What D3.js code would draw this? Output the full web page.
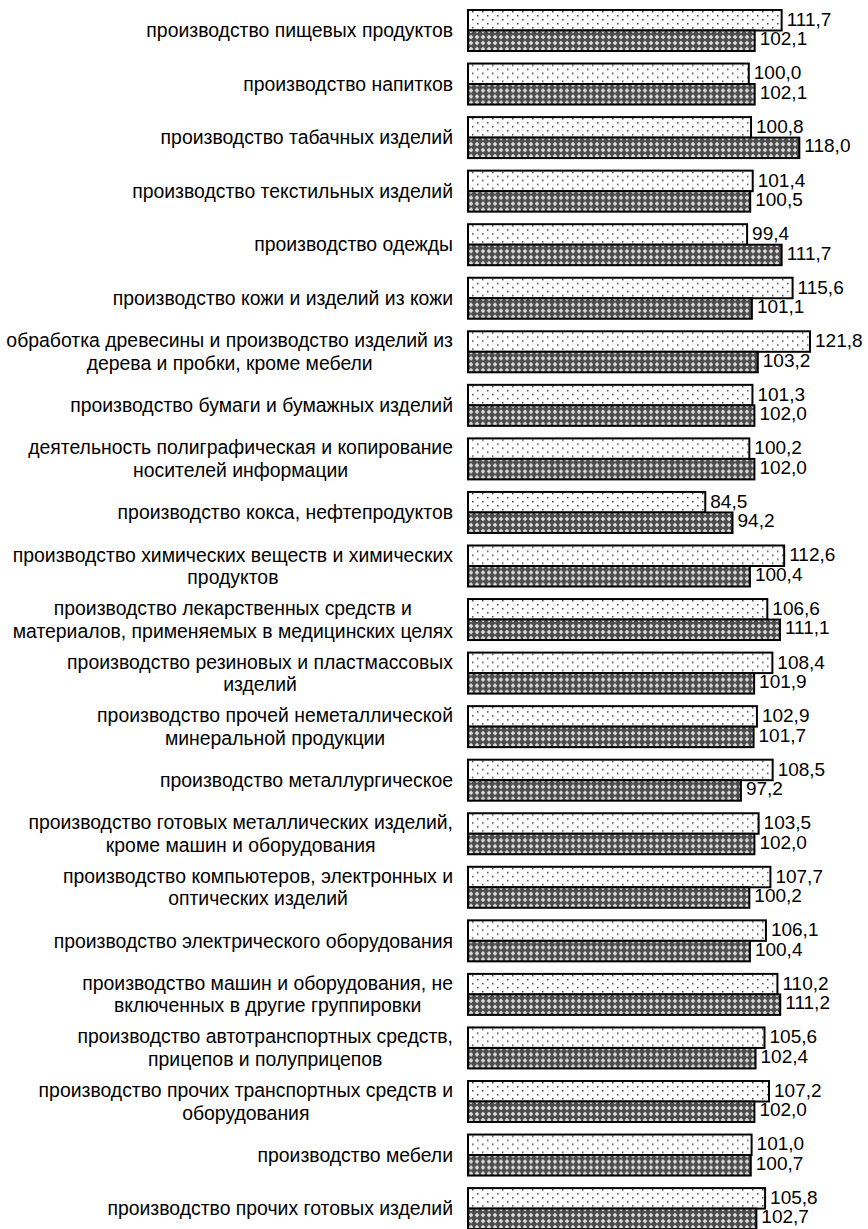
<!DOCTYPE html>
<html><head><meta charset="utf-8">
<script src="https://cdn.jsdelivr.net/npm/d3@7"></script>
<style>body{margin:0;background:#fff}svg{display:block}</style>
</head><body>
<svg id="c" width="868" height="1229"></svg>
<script>
const categories = [
  "производство пищевых продуктов",
  "производство напитков",
  "производство табачных изделий",
  "производство текстильных изделий",
  "производство одежды",
  "производство кожи и изделий из кожи",
  "обработка древесины и производство изделий из\nдерева и пробки, кроме мебели",
  "производство бумаги и бумажных изделий",
  "деятельность полиграфическая и копирование\nносителей информации",
  "производство кокса, нефтепродуктов",
  "производство химических веществ и химических\nпродуктов",
  "производство лекарственных средств и\nматериалов, применяемых в медицинских целях",
  "производство резиновых и пластмассовых\nизделий",
  "производство прочей неметаллической\nминеральной продукции",
  "производство металлургическое",
  "производство готовых металлических изделий,\nкроме машин и оборудования",
  "производство компьютеров, электронных и\nоптических изделий",
  "производство электрического оборудования",
  "производство машин и оборудования, не\nвключенных в другие группировки",
  "производство автотранспортных средств,\nприцепов и полуприцепов",
  "производство прочих транспортных средств и\nоборудования",
  "производство мебели",
  "производство прочих готовых изделий"
];
const seriesTop = [111.7,100.0,100.8,101.4,99.4,115.6,121.8,101.3,100.2,84.5,112.6,106.6,108.4,102.9,108.5,103.5,107.7,106.1,110.2,105.6,107.2,101.0,105.8];
const seriesBottom = [102.1,102.1,118.0,100.5,111.7,101.1,103.2,102.0,102.0,94.2,100.4,111.1,101.9,101.7,97.2,102.0,100.2,100.4,111.2,102.4,102.0,100.7,102.7];
const seriesKeys = ["top","bottom"];

const FONT = "'Liberation Sans', Arial, sans-serif";
const svg = d3.select("#c");
const defs = svg.append("defs");
// dotted pattern
const pd = defs.append("pattern").attr("id","dots").attr("patternUnits","userSpaceOnUse")
  .attr("width",10).attr("height",8);
pd.append("rect").attr("width",10).attr("height",8).attr("fill","#fff");
pd.append("rect").attr("x",2).attr("y",1).attr("width",1.5).attr("height",1.5).attr("fill","#444");
pd.append("rect").attr("x",7).attr("y",5).attr("width",1.5).attr("height",1.5).attr("fill","#444");
// crosshatch pattern
const pc = defs.append("pattern").attr("id","cross").attr("patternUnits","userSpaceOnUse")
  .attr("width",6).attr("height",6);
pc.append("rect").attr("width",6).attr("height",6).attr("fill","#4d4d4d");
pc.append("path").attr("d","M3,0.8 L5.2,3 L3,5.2 L0.8,3 Z").attr("fill","#f2f2f2");
pc.append("rect").attr("x",2.5).attr("y",2.5).attr("width",1).attr("height",1).attr("fill","#999");

const x = d3.scaleLinear().domain([0,121.8]).range([468,810]);
const step = 53.55, groupH = 41;
const y = d3.scaleBand().domain(d3.range(categories.length))
  .range([10, 10 + 22*step + groupH]).paddingInner(1 - groupH/step).paddingOuter(0);
const ySub = d3.scaleBand().domain(seriesKeys).range([0, y.bandwidth()]);

const rows = categories.map((c,i)=>({i, c, top: seriesTop[i], bottom: seriesBottom[i]}));
const g = svg.append("g");
const grp = g.selectAll("g.row").data(rows).join("g").attr("class","row")
  .attr("transform", d=>`translate(0,${y(d.i)})`);

seriesKeys.forEach(k=>{
  grp.append("rect")
    .attr("x", x(0))
    .attr("y", ySub(k))
    .attr("width", d=> x(d[k]) - x(0))
    .attr("height", ySub.bandwidth())
    .attr("fill", k==="top" ? "url(#dots)" : "url(#cross)")
    .attr("stroke","#000").attr("stroke-width",2);
  grp.append("text")
    .attr("x", d=> x(d[k]) + 5)
    .attr("y", ySub(k) + ySub.bandwidth()/2 + (k==="bottom"?-2:-1))
    .attr("dy","0.35em")
    .attr("font-family",FONT)
    .attr("font-size",19).attr("fill","#000")
    .text(d=> d[k].toFixed(1).replace(".",","));
});

// category labels
const labelRight = 453;
grp.each(function(d){
  const lines = d.c.split("\n");
  const t = d3.select(this).append("text")
    .attr("font-family",FONT)
    .attr("font-size",19.4).attr("fill","#000").attr("text-anchor","middle");
  const cy = y.bandwidth()/2;
  const lh = 22.5;
  const spans = lines.map((ln,j)=> t.append("tspan").attr("y", cy + (j - (lines.length-1)/2)*lh).attr("dy","0.35em").text(ln));
  const maxW = d3.max(spans, s=> s.node().getComputedTextLength());
  spans.forEach(s=> s.attr("x", labelRight - maxW/2));
});
</script>
</body></html>
